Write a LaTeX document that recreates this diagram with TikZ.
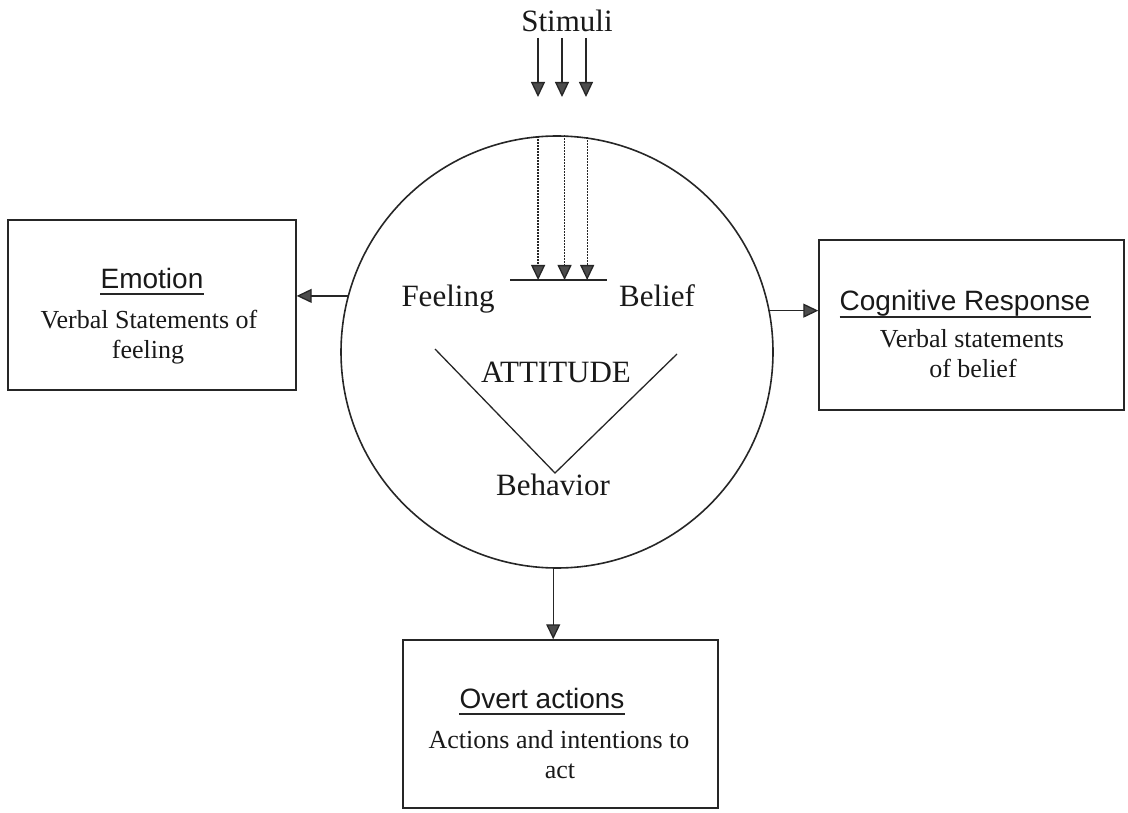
\documentclass[tikz,border=0pt]{standalone}
\usepackage{fontspec}
\setmainfont{Liberation Serif}
\setsansfont{Liberation Sans}
\usetikzlibrary{arrows.meta,calc}
\newcommand\mybody{\fontsize{26}{30}\selectfont}
\newcommand\mytitle{\sffamily\fontsize{28}{32}\selectfont}
\newcommand\mylabel{\fontsize{31}{36}\selectfont}
\begin{document}
\begin{tikzpicture}[x=1pt,y=-1pt,
  ln/.style={line width=1.3pt, draw=black!85},
  arr/.style={ln, -{Triangle[length=15pt,width=14pt,fill=black!70]}},
  darr/.style={arr, dash pattern=on 1.5pt off 1.5pt},
  boxnode/.style={draw=black!85, line width=1.4pt, inner sep=0, rectangle},
  txt/.style={inner sep=0, anchor=base, text=black!90},
  uline/.style={line width=1.6pt, draw=black!85}
]
\useasboundingbox (0,0) rectangle (1128,813);

% central circle
\node[circle, draw=black!85, line width=1.6pt, minimum size=432pt, inner sep=0] (C) at (557,352) {};

% stimuli
\node[txt] (stim) at (567,32) {\mylabel Stimuli};
\coordinate (s1a) at (538,38); \coordinate (s1b) at (538,97);
\coordinate (s2a) at (562,38); \coordinate (s2b) at (562,97);
\coordinate (s3a) at (586,38); \coordinate (s3b) at (586,97);
\draw[arr] (s1a) -- (s1b);
\draw[arr] (s2a) -- (s2b);
\draw[arr] (s3a) -- (s3b);

% bar and dotted arrows
\coordinate (bar1) at (510,280); \coordinate (bar2) at (607,280);
\draw[ln] (bar1) -- (bar2);
\draw[darr] (C.95) -- (C.95 |- bar1);
\draw[darr] (C.88.7) -- (C.88.7 |- bar1);
\draw[darr] (C.82.3) -- (C.82.3 |- bar1);

% labels inside circle
\node[txt] (feel) at (448,306) {\mylabel Feeling};
\node[txt] (bel) at (657,306) {\mylabel Belief};
\node[txt] (att) at (556,382) {\mylabel ATTITUDE};
\node[txt] (beh) at (553,495) {\mylabel Behavior};

% V shape
\coordinate (v1) at (435,349);
\coordinate (v2) at (555,473);
\coordinate (v3) at (677,354);
\draw[ln] (v1) -- (v2) -- (v3);

% boxes
\node[boxnode, minimum width=288pt, minimum height=170pt] (E) at (152,305) {};
\node[boxnode, minimum width=305pt, minimum height=170pt] (R) at (971.5,325) {};
\node[boxnode, minimum width=315pt, minimum height=168pt] (O) at (560.5,724) {};

% Emotion texts
\node[txt] (et) at (152,289) {\mytitle Emotion};
\draw[uline] ([yshift=-5pt]et.base west) -- ([yshift=-5pt]et.base east);
\node[txt] (e1) at (149,328) {\mybody Verbal Statements of};
\node[txt] (e2) at (148,358) {\mybody feeling};

% Cognitive texts
\node[txt] (rt) at (965,310) {\mytitle Cognitive Response};
\draw[uline] ([yshift=-7pt]rt.base west) -- ([yshift=-7pt]rt.base east);
\node[txt] (r1) at (972,348) {\mybody Verbal statements};
\node[txt] (r2) at (973,377) {\mybody of belief};

% Overt texts
\node[txt] (ot) at (542,708) {\mytitle Overt actions};
\draw[uline] ([yshift=-6pt]ot.base west) -- ([yshift=-6pt]ot.base east);
\node[txt] (o1) at (559,748) {\mybody Actions and intentions to};
\node[txt] (o2) at (560,778) {\mybody act};

% connectors
\draw[arr] (C.165.5) -- (C.165.5 -| E.east);
\draw[arr] (C.11.2) -- (C.11.2 -| R.west);
\draw[arr] (C.-91.3) -- (C.-91.3 |- O.north);
\end{tikzpicture}
\end{document}
